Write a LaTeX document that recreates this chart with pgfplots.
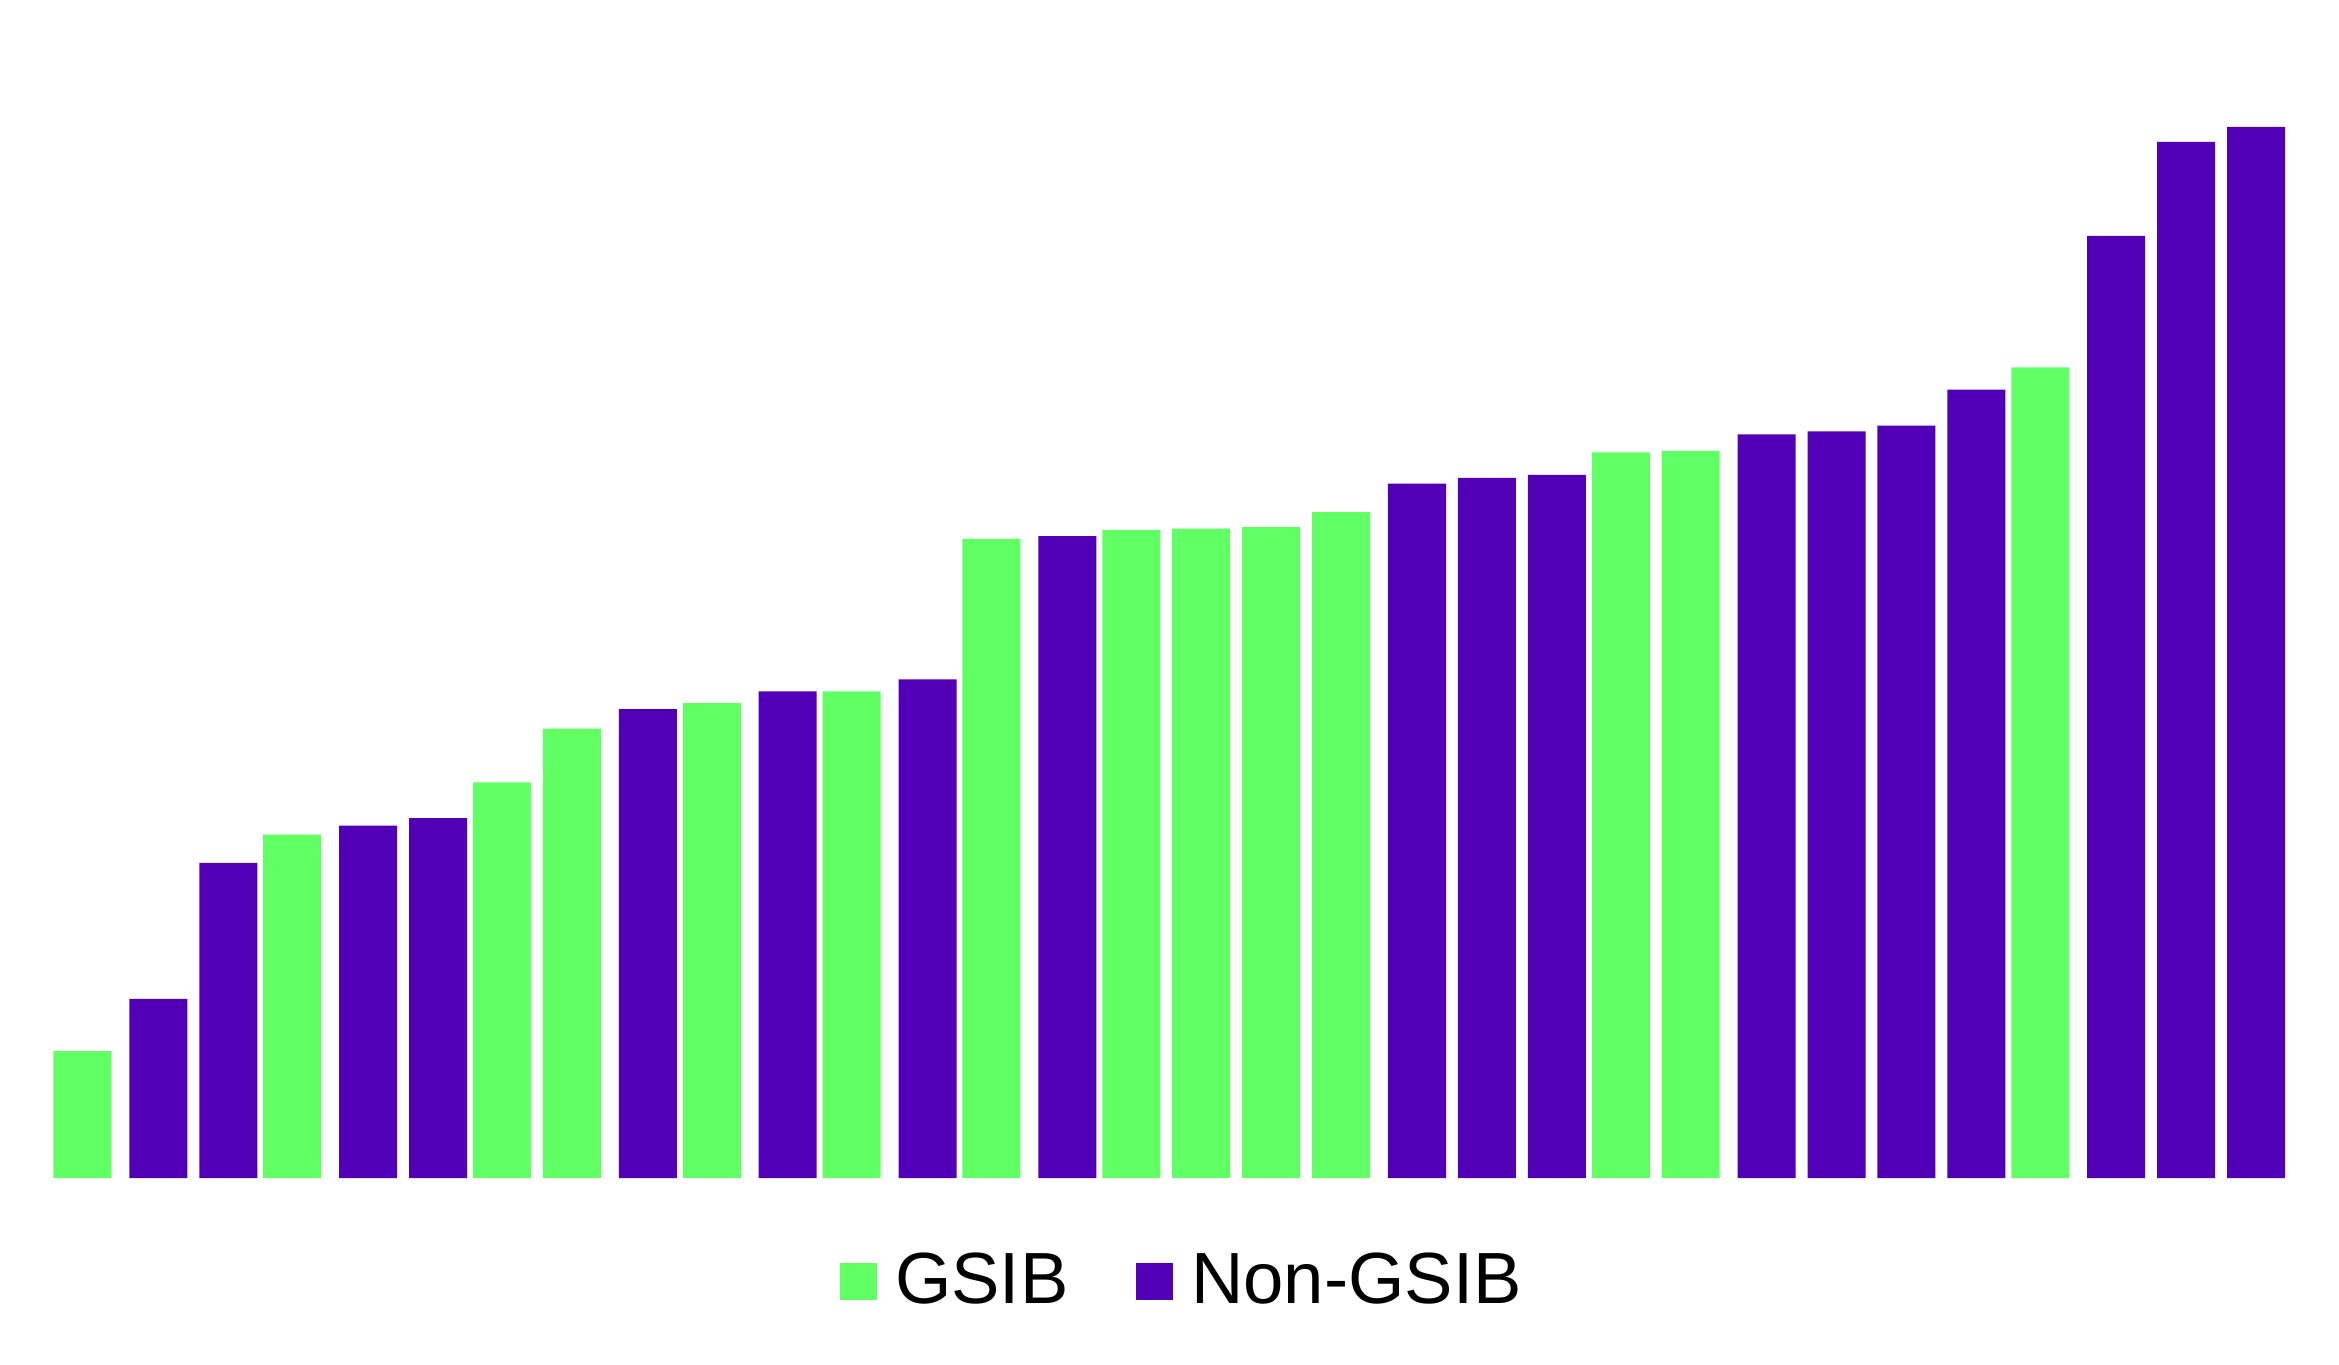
\documentclass[border=0pt]{standalone}
\usepackage{fontspec}
\setmainfont{Liberation Sans}
\usepackage{pgfplots}
\pgfplotsset{compat=1.18}

\definecolor{gsib}{HTML}{60FF63}
\definecolor{nongsib}{HTML}{5100B8}

\begin{document}
\begin{tikzpicture}
\useasboundingbox (0,0) rectangle (467.8pt,272.8pt);
\begin{axis}[
    at={(10.1pt,37.2pt)}, anchor=south west,
    scale only axis,
    width=447.5pt, height=235.6pt,
    xmin=0.5, xmax=32.5,
    ymin=0, ymax=789,
    axis lines=none,
    ticks=none,
    clip=false,
    legend columns=2,
    legend style={
        at={(0.5052,-0.088)}, anchor=center,
        draw=none, fill=none,
        font=\fontsize{14.5}{17}\selectfont,
        column sep=0pt,
        nodes={inner sep=0pt},
        cells={anchor=west},
        /tikz/every odd column/.append style={column sep=3.6pt},
        /tikz/every even column/.append style={column sep=13.6pt},
    },
    legend image code/.code={\fill[#1] (0pt,-3.7pt) rectangle (7.4pt,3.7pt);},
]

% GSIB banks
\addplot[ybar, bar width=11.6pt, bar shift=-0.6pt, fill=gsib, draw=none]
    coordinates {
    (1,85)(4,230)(7,265)(8,301)(10,318)(12,326)(14,428)
    (16,434)(17,435)(18,436)(19,446)(23,486)(24,487)(29,543)
    };
\addlegendentry{GSIB}

% Non-GSIB banks
\addplot[ybar, bar width=11.6pt, bar shift=0.6pt, fill=nongsib, draw=none]
    coordinates {
    (2,120)(3,211)(5,236)(6,241)(9,314)(11,326)(13,334)(15,430)
    (20,465)(21,469)(22,471)(25,498)(26,500)(27,504)(28,528)
    (30,631)(31,694)(32,704)
    };
\addlegendentry{Non-GSIB}

\end{axis}
\end{tikzpicture}
\end{document}
